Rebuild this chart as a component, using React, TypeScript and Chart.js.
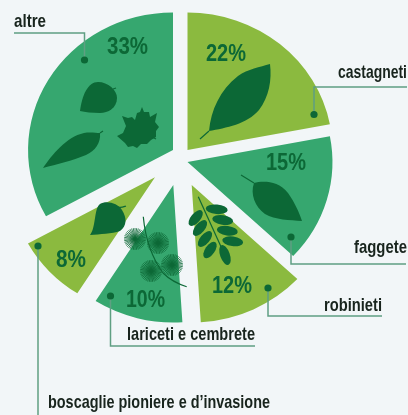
import React, { useEffect, useRef } from "react";
import { Chart, registerables } from "chart.js";

Chart.register(...registerables);

const categories = ["castagneti", "faggete", "robinieti", "lariceti e cembrete", "boscaglie pioniere e d\u2019invasione", "altre"];
const shares = [22, 15, 12, 10, 8, 33];

const BG = "#f2f6f8";
const MID = "#36a76f";
const LIGHT = "#8bba3f";
const DARK = "#0c6836";
const LINE = "#5f9f82";
const INK = "#18241d";
const sliceColors = [LIGHT, MID, LIGHT, MID, LIGHT, MID];

// Exploded-pie layout
const RADIUS = 141;
const STRETCH_X = 1.028;
const STRETCH_Y = 0.975;
const CENTER = [180, 165];
const explode = [[7.5, -15], [7.5, -3], [11.7, 20], [-6.7, 20], [-25, 12.3], [-7, -15]];

const percentBoxes = [[206, 246, 61], [266, 306, 170], [212, 252, 293], [126, 165, 307], [56, 86, 267], [107, 148, 54]];
const labelBoxes = [[338, 407, 78], [354, 407, 253], [324, 382, 311], [127, 255, 340], [48, 270, 408], [14, 46, 27]];
const leaders = [
  [[314, 114.5], [314, 87], [407, 87]],
  [[291, 237], [291, 264], [406, 264]],
  [[268, 288], [268, 316], [382, 316]],
  [[110.5, 296], [110.5, 346], [255, 346]],
  [[38, 246], [38, 415]],
  [[84.5, 60], [84.5, 33], [14, 33]],
];

const leafPaths = [
  "M80,111 C82,95 88,82 98,82 C108,82 117,90 117,98 C117,108 108,113 100,113 C92,113 85,112 80,111 Z",
  "M43,168 C52,155 66,137 84,133 C90,132 96,133 100,133 C101,143 95,151 86,155 C72,161 57,164 43,168 Z",
  "M142,107 L144,112 L149,112 L150,117 L157,113 L155,122 L159,127 L156,131 L156,137 L151,140 L147,144 L141,144 L137,148 L133,146 L128,147 L125,143 L117,136 L123,133 L126,126 L122,116 L128,118 L132,117 L135,120 L137,113 L140,112 Z",
  "M209,131 C211,110 220,90 238,76 C248,69 260,67 270,64 C272,80 269,97 259,110 C247,124 226,128 209,131 Z",
  "M254,183 C262,181 278,180 288,193 C295,203 299,212 302,221 C290,220 275,220 265,214 C255,207 250,194 254,183 Z",
  "M90,235 C96,228 94,208 100,204 C106,200 118,203 122,210 C127,218 127,226 120,231 C112,234 100,234 90,235 Z",
];
const stems = [
  "M113,89 L116,88",
  "M100,133 L103,131",
  "M152,137 L156,139",
  "M209,131 L200,139",
  "M254,183 L241,175",
  "M118,207 C121,208 123,207 126,206",
  "M198.3,196.7 L223.3,251.7",
];
const robiniaLeaflets = [
  [216.7, 209.3, 11, 4.8, 5], [195.7, 218, 9.5, 4.8, -50], [222.7, 220, 10.5, 4.8, 8], [200, 228, 9.5, 4.8, -50],
  [227.3, 230.7, 10.5, 4.8, 8], [205, 239, 9.5, 4.8, -50], [232.7, 241.3, 10.5, 4.8, 8], [210, 250, 9.5, 4.8, -55], [225, 255, 10.5, 4.8, 70],
];
const larchTufts = [[135, 239], [158, 243], [151, 271], [172, 265]];

const FONT = '"Liberation Sans Narrow", "Liberation Sans", sans-serif';

function fit(ctx: CanvasRenderingContext2D, text: string, x0: number, x1: number, y: number) {
  ctx.textAlign = "left";
  ctx.textBaseline = "alphabetic";
  ctx.fillText(text, x0, y, x1 - x0);
}

const stretchPlugin = {
  id: "stretch",
  afterDatasetsUpdate(chart: any) {
    chart.getDatasetMeta(0).data.forEach((arc: any, i: number) => {
      arc.x = CENTER[0] + explode[i][0] / STRETCH_X;
      arc.y = CENTER[1] + explode[i][1] / STRETCH_Y;
    });
  },
  beforeDatasetsDraw(chart: any) {
    const c = chart.ctx;
    c.save();
    c.translate(CENTER[0], CENTER[1]);
    c.scale(STRETCH_X, STRETCH_Y);
    c.translate(-CENTER[0], -CENTER[1]);
  },
  afterDatasetsDraw(chart: any) {
    chart.ctx.restore();
  },
};

const artPlugin = {
  id: "art",
  afterDraw(chart: any) {
    const c: CanvasRenderingContext2D = chart.ctx;
    c.save();
    c.fillStyle = DARK;
    c.strokeStyle = DARK;
    c.lineWidth = 1.2;
    leafPaths.forEach((p) => c.fill(new Path2D(p)));
    stems.forEach((p) => c.stroke(new Path2D(p)));
    robiniaLeaflets.forEach(([x, y, rx, ry, a]) => {
      c.beginPath();
      c.ellipse(x, y, rx, ry, (a * Math.PI) / 180, 0, Math.PI * 2);
      c.fill();
    });
    c.stroke(new Path2D("M143.3,216.7 C145,235 150,255 163,273 C170,280 178,284 186.7,286.7"));
    c.lineWidth = 0.8;
    larchTufts.forEach(([x, y]) => {
      for (let a = 0; a < 360; a += 9) {
        c.beginPath();
        c.moveTo(x, y);
        c.lineTo(x + 11 * Math.cos((a * Math.PI) / 180), y + 11 * Math.sin((a * Math.PI) / 180));
        c.stroke();
      }
    });

    c.strokeStyle = LINE;
    c.lineWidth = 1.5;
    leaders.forEach((pts) => {
      c.beginPath();
      pts.forEach(([x, y], i) => (i ? c.lineTo(x, y) : c.moveTo(x, y)));
      c.stroke();
      c.fillStyle = DARK;
      c.beginPath();
      c.arc(pts[0][0], pts[0][1], 3.6, 0, Math.PI * 2);
      c.fill();
    });

    c.fillStyle = DARK;
    c.font = `bold 23px ${FONT}`;
    shares.forEach((v, i) => fit(c, `${v}%`, percentBoxes[i][0], percentBoxes[i][1], percentBoxes[i][2]));
    c.fillStyle = INK;
    c.font = `bold 19px ${FONT}`;
    categories.forEach((t, i) => fit(c, t, labelBoxes[i][0], labelBoxes[i][1], labelBoxes[i][2]));
    c.restore();
  },
};

export default function App() {
  const ref = useRef<HTMLCanvasElement>(null);
  useEffect(() => {
    document.body.style.margin = "0";
    document.body.style.background = BG;
    const chart = new Chart(ref.current as HTMLCanvasElement, {
      type: "pie",
      data: {
        labels: categories,
        datasets: [{ data: shares, backgroundColor: sliceColors, borderWidth: 0, clip: false } as any],
      },
      options: {
        animation: false,
        responsive: false,
        events: [],
        radius: RADIUS,
        layout: { padding: { left: 0, top: 0, right: 408 - 2 * CENTER[0], bottom: 415 - 2 * CENTER[1] } },
        plugins: { legend: { display: false }, tooltip: { enabled: false }, title: { display: false } },
      } as any,
      plugins: [stretchPlugin, artPlugin],
    });
    return () => chart.destroy();
  }, []);
  return (
    <div style={{ width: 408, height: 415, background: BG }}>
      <canvas ref={ref} width={408} height={415} style={{ display: "block", filter: "blur(0.4px)" }} />
    </div>
  );
}
